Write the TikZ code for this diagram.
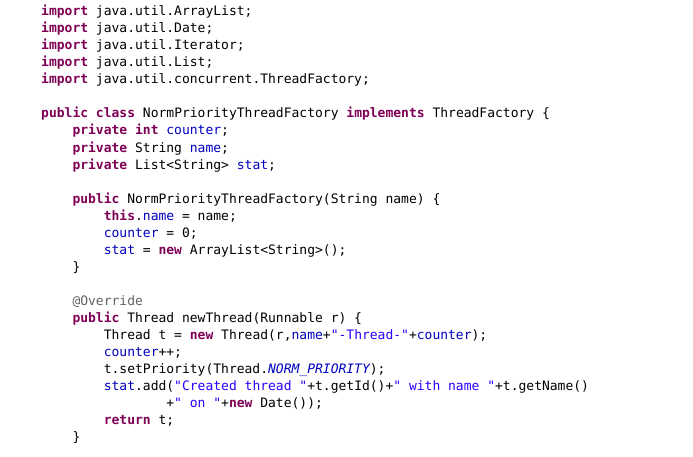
\documentclass[tikz,border=0pt]{standalone}
\usepackage{fontspec}
\setmonofont{DejaVu Sans Mono}
\definecolor{kwc}{HTML}{7F0055}
\definecolor{fldc}{HTML}{0000C0}
\definecolor{strc}{HTML}{2A00FF}
\definecolor{annc}{HTML}{646464}
\newcommand{\kw}[1]{\textbf{\color{kwc}#1}}
\newcommand{\fld}[1]{{\color{fldc}#1}}
\newcommand{\sfld}[1]{{\color{fldc}\itshape #1}}
\newcommand{\strl}[1]{{\color{strc}#1}}
\tikzset{code/.style={anchor=base west,inner sep=0pt,font=\ttfamily\fontsize{13}{17}\selectfont,text=black}}
\begin{document}
\begin{tikzpicture}[x=1pt,y=1pt]
\useasboundingbox[fill=white] (0,0) rectangle (693,456);
\def\L#1#2#3#4{\node[code] (#1) at ({41+31.3*#2},{456-16-17*(#3-1)}) {#4};}
\L{l1}{0}{1}{\kw{import} java.util.ArrayList;}
\L{l2}{0}{2}{\kw{import} java.util.Date;}
\L{l3}{0}{3}{\kw{import} java.util.Iterator;}
\L{l4}{0}{4}{\kw{import} java.util.List;}
\L{l5}{0}{5}{\kw{import} java.util.concurrent.ThreadFactory;}
\L{l7}{0}{7}{\kw{public} \kw{class} NormPriorityThreadFactory \kw{implements} ThreadFactory \{}
\L{l8}{1}{8}{\kw{private} \kw{int} \fld{counter};}
\L{l9}{1}{9}{\kw{private} String \fld{name};}
\L{l10}{1}{10}{\kw{private} List<String> \fld{stat};}
\L{l12}{1}{12}{\kw{public} NormPriorityThreadFactory(String name) \{}
\L{l13}{2}{13}{\kw{this}.\fld{name} = name;}
\L{l14}{2}{14}{\fld{counter} = 0;}
\L{l15}{2}{15}{\fld{stat} = \kw{new} ArrayList<String>();}
\L{l16}{1}{16}{\}}
\L{l18}{1}{18}{{\color{annc}@Override}}
\L{l19}{1}{19}{\kw{public} Thread newThread(Runnable r) \{}
\L{l20}{2}{20}{Thread t = \kw{new} Thread(r,\fld{name}+\strl{"-Thread-"}+\fld{counter});}
\L{l21}{2}{21}{\fld{counter}++;}
\L{l22}{2}{22}{t.setPriority(Thread.\sfld{NORM\_PRIORITY});}
\L{l23}{2}{23}{\fld{stat}.add(\strl{"Created thread "}+t.getId()+\strl{" with name "}+t.getName()}
\L{l24}{4}{24}{+\strl{" on "}+\kw{new} Date());}
\L{l25}{2}{25}{\kw{return} t;}
\L{l26}{1}{26}{\}}
\end{tikzpicture}
\end{document}
